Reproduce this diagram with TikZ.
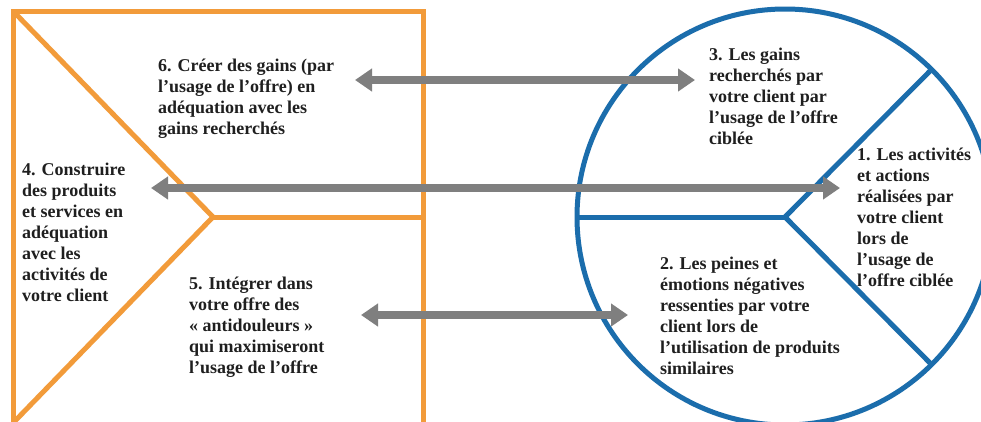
\documentclass[tikz,border=0pt]{standalone}
\usepackage{fontspec}
\setmainfont{Liberation Serif}
\usetikzlibrary{arrows.meta}
\definecolor{orng}{HTML}{F29B3A}
\definecolor{blu}{HTML}{1B6DAC}
\definecolor{arr}{HTML}{7F7F7F}
\begin{document}
\begin{tikzpicture}[x=1pt,y=-1pt,
  txt/.style={font=\bfseries\fontsize{18}{21}\selectfont, align=left, anchor=north west, inner sep=0pt, text=black!88},
  twoway/.style={draw=arr, line width=7.5pt, {Triangle[width=22pt,length=17pt]}-{Triangle[width=22pt,length=17pt]}},
  orangeline/.style={draw=orng, line width=5pt},
  blueline/.style={draw=blu, line width=5pt, line join=round}]
\useasboundingbox (0,0) rectangle (981,421);
\fill[white] (0,0) rectangle (981,421);
\clip (0,0) rectangle (981,421);
% value proposition (orange square)
\draw[orangeline] (13,11) rectangle (423,428);
\draw[orangeline] (13,11) -- (213,217) -- (13,423);
\draw[orangeline] (213,217) -- (423,217);
% customer profile (blue circle)
\coordinate (cc) at (785,217);
\draw[blueline] (cc) circle[radius=208];
\draw[blueline] (577,217) -- (cc);
\draw[blueline] (930,71) -- (cc) -- (930,363);
% texts
\node[txt] (t6) at (158,59) {6. Créer des gains (par\\l’usage de l’offre) en\\adéquation avec les\\gains recherchés};
\node[txt] (t4) at (22,163) {4. Construire\\des produits\\et services en\\adéquation\\avec les\\activités de\\votre client};
\node[txt] (t5) at (189,277) {5. Intégrer dans\\votre offre des\\«~antidouleurs~»\\qui maximiseront\\l’usage de l’offre};
\node[txt] (t3) at (709,48) {3. Les gains\\recherchés par\\votre client par\\l’usage de l’offre\\ciblée};
\node[txt] (t1) at (857,148) {1. Les activités\\et actions\\réalisées par\\votre client\\lors de\\l’usage de\\l’offre ciblée};
\node[txt] (t2) at (660,257) {2. Les peines et\\émotions négatives\\ressenties par votre\\client lors de\\l’utilisation de produits\\similaires};
% arrows
\coordinate (a6) at (355,80);
\coordinate (a3) at (695,80);
\coordinate (a4) at (151,188);
\coordinate (a1) at (840,188);
\coordinate (a5) at (361,315);
\coordinate (a2) at (628,315);
\draw[twoway] (a6) -- (a3);
\draw[twoway] (a4) -- (a1);
\draw[twoway] (a5) -- (a2);
\end{tikzpicture}
\end{document}
